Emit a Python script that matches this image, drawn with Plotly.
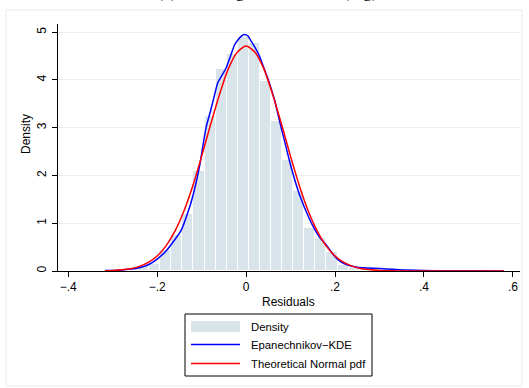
import plotly.graph_objects as go

# Histogram of residuals (density scale)
bin_start = -0.318
bin_width = 0.02494
hist_density = [0.01, 0.02, 0.04, 0.10, 0.155, 0.45, 0.75, 1.19, 2.10, 3.24,
                4.22, 4.54, 4.90, 4.77, 3.98, 3.14, 2.32, 1.68, 0.89, 0.70,
                0.40, 0.12, 0.07, 0.05, 0.03, 0.03, 0.02, 0.01, 0.01, 0.01,
                0.0, 0.01, 0.0, 0.0, 0.0, 0.01]

# Epanechnikov kernel density estimate
kde_x = [-0.317, -0.30, -0.28, -0.26, -0.24, -0.22, -0.20, -0.18, -0.16, -0.146,
         -0.13, -0.12, -0.105, -0.09, -0.08, -0.07, -0.064, -0.056, -0.045, -0.035,
         -0.026, -0.018, -0.01, -0.004, 0.004, 0.012, 0.02, 0.03, 0.04, 0.05,
         0.064, 0.075, 0.086, 0.10, 0.12, 0.142, 0.155, 0.165, 0.175, 0.184,
         0.20, 0.213, 0.23, 0.25, 0.27, 0.30, 0.33, 0.36, 0.40, 0.45, 0.50, 0.58]
kde_y = [0.008, 0.012, 0.02, 0.04, 0.07, 0.13, 0.25, 0.42, 0.66, 0.85,
         1.25, 1.56, 2.18, 3.00, 3.35, 3.72, 3.93, 4.07, 4.25, 4.50,
         4.73, 4.84, 4.92, 4.95, 4.92, 4.80, 4.68, 4.50, 4.25, 4.00,
         3.58, 3.15, 2.74, 2.22, 1.60, 1.10, 0.86, 0.71, 0.60, 0.50,
         0.30, 0.19, 0.12, 0.08, 0.065, 0.05, 0.035, 0.02, 0.01, 0.005, 0.003, 0.002]

# Theoretical normal density
norm_x = [-0.317, -0.30, -0.28, -0.26, -0.24, -0.22, -0.20, -0.18, -0.16, -0.14,
          -0.12, -0.10, -0.08, -0.06, -0.04, -0.02, 0.00, 0.02, 0.04, 0.06,
          0.08, 0.10, 0.12, 0.14, 0.16, 0.18, 0.20, 0.22, 0.24, 0.26,
          0.28, 0.30, 0.32, 0.34, 0.38, 0.45, 0.58]
norm_y = [0.0045, 0.011, 0.024, 0.049, 0.096, 0.179, 0.315, 0.527, 0.835, 1.25,
          1.78, 2.40, 3.06, 3.69, 4.23, 4.58, 4.71, 4.58, 4.23, 3.69,
          3.06, 2.40, 1.78, 1.25, 0.835, 0.527, 0.315, 0.179, 0.096, 0.049,
          0.024, 0.011, 0.0045, 0.002, 0.0003, 0.0, 0.0]

x_ticks = [-0.4, -0.2, 0.0, 0.2, 0.4, 0.6]
x_ticktext = ["\u2212.4", "\u2212.2", "0", ".2", ".4", ".6"]
y_ticks = [0, 1, 2, 3, 4, 5]

legend_labels = ["Density", "Epanechnikov\u2212KDE", "Theoretical Normal pdf"]

BAR_COLOR = "#d8e4ea"
FONT = "Liberation Sans, Arial, sans-serif"

bar_centers = [bin_start + (i + 0.5) * bin_width for i in range(len(hist_density))]

fig = go.Figure()
fig.add_trace(go.Bar(x=bar_centers, y=hist_density, width=bin_width,
                     marker=dict(color=BAR_COLOR, line=dict(color="white", width=1)),
                     showlegend=False, hoverinfo="skip"))
fig.add_trace(go.Scatter(x=kde_x, y=kde_y, mode="lines",
                         line=dict(color="#0000ff", width=1.5, shape="spline", smoothing=0.7),
                         showlegend=False))
fig.add_trace(go.Scatter(x=norm_x, y=norm_y, mode="lines",
                         line=dict(color="#ff0000", width=1.5, shape="spline", smoothing=0.7),
                         showlegend=False))

# plot area: x 58..520 px, y 24..271 px
L, R, T, B = 58, 520, 24, 271
W, H = R - L, B - T


def px(x):
    return (x - L) / W


def py(y):
    return (B - y) / H


shapes = []
annotations = []

# outer frame
shapes.append(dict(type="rect", xref="paper", yref="paper",
                   x0=px(6), x1=px(522), y0=py(386), y1=py(10),
                   line=dict(color="#e3eaed", width=1), fillcolor="rgba(0,0,0,0)",
                   layer="below"))

# legend box
shapes.append(dict(type="rect", xref="paper", yref="paper",
                   x0=px(185), x1=px(372), y0=py(376), y1=py(314),
                   line=dict(color="black", width=1), fillcolor="white"))
shapes.append(dict(type="rect", xref="paper", yref="paper",
                   x0=px(191), x1=px(240), y0=py(332), y1=py(321),
                   line=dict(width=0), fillcolor=BAR_COLOR))
shapes.append(dict(type="line", xref="paper", yref="paper",
                   x0=px(191), x1=px(240), y0=py(344.5), y1=py(344.5),
                   line=dict(color="#0000ff", width=1.5)))
shapes.append(dict(type="line", xref="paper", yref="paper",
                   x0=px(191), x1=px(240), y0=py(363.5), y1=py(363.5),
                   line=dict(color="#ff0000", width=1.5)))
for label, yy in zip(legend_labels, [326.5, 345, 363.5]):
    annotations.append(dict(text=label, xref="paper", yref="paper",
                            x=px(249), y=py(yy), xanchor="left", yanchor="middle",
                            showarrow=False, font=dict(family=FONT, size=11.3, color="black")))

# axis titles
annotations.append(dict(text="Residuals", xref="paper", yref="paper",
                        x=px(288), y=py(302), xanchor="center", yanchor="middle",
                        showarrow=False, font=dict(family=FONT, size=12, color="black")))
annotations.append(dict(text="Density", xref="paper", yref="paper",
                        x=px(26), y=py(134), xanchor="center", yanchor="middle",
                        textangle=-90, showarrow=False,
                        font=dict(family=FONT, size=12, color="black")))

# panel title, running off the top edge of the page
annotations.append(dict(text="(c) Exchange rate returns (log)", xref="paper", yref="paper",
                        x=px(267), y=py(4), xanchor="center", yanchor="bottom",
                        showarrow=False,
                        font=dict(family="Liberation Serif, Times New Roman, serif",
                                  size=18, color="black")))

fig.update_layout(
    width=529, height=388,
    margin=dict(l=L, r=529 - R, t=T, b=388 - B, pad=0),
    paper_bgcolor="white", plot_bgcolor="white",
    bargap=0, showlegend=False,
    shapes=shapes, annotations=annotations,
    font=dict(family=FONT, size=12, color="black"),
    xaxis=dict(range=[-0.423, 0.616], tickvals=x_ticks, ticktext=x_ticktext,
               ticks="outside", ticklen=5, tickcolor="black", tickwidth=1,
               showline=True, linecolor="black", linewidth=1,
               showgrid=False, zeroline=False,
               tickfont=dict(family=FONT, size=12, color="black")),
    yaxis=dict(range=[0, 5.17], tickvals=y_ticks, tickangle=-90,
               ticks="outside", ticklen=5, tickcolor="black", tickwidth=1,
               showline=True, linecolor="black", linewidth=1,
               showgrid=True, gridcolor="#eaf1f3", gridwidth=1,
               zeroline=False, ticklabelstandoff=1,
               tickfont=dict(family=FONT, size=12, color="black")),
)

fig.write_html("out.html")
